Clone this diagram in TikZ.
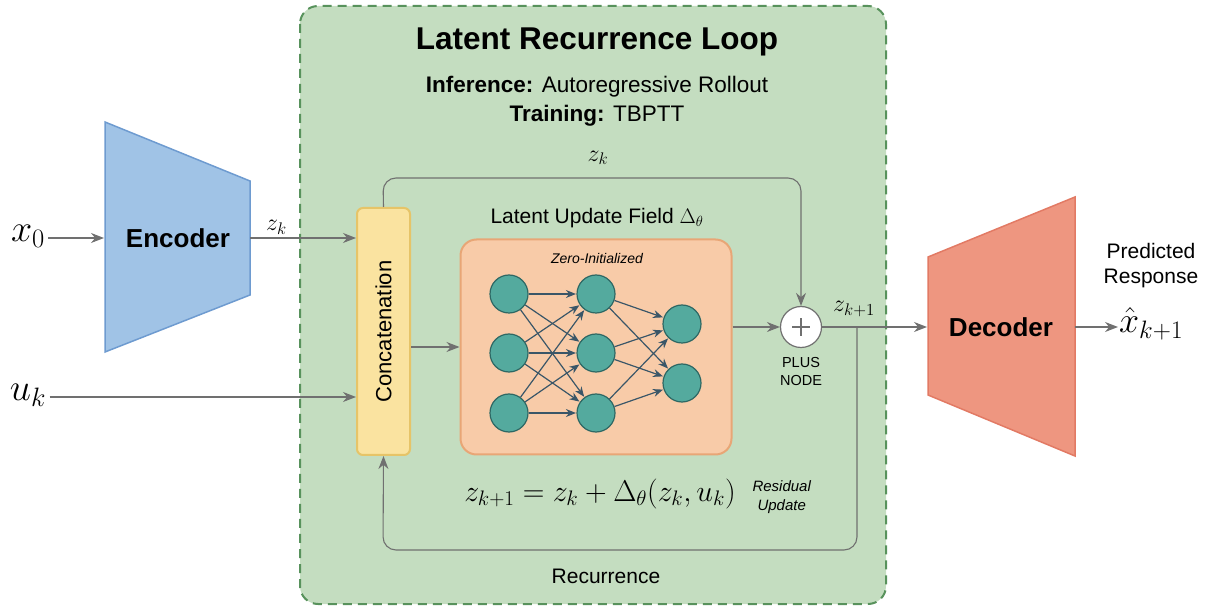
\RequirePackage{fix-cm}
\documentclass[tikz,border=0pt]{standalone}
\usepackage{fontspec}
\setmainfont{Liberation Sans}
\usetikzlibrary{arrows.meta}
\definecolor{loopfill}{RGB}{196,221,192}
\definecolor{loopline}{RGB}{88,146,92}
\definecolor{encfill}{RGB}{160,195,230}
\definecolor{encline}{RGB}{110,155,208}
\definecolor{decfill}{RGB}{238,150,128}
\definecolor{decline}{RGB}{226,122,100}
\definecolor{catfill}{RGB}{250,227,160}
\definecolor{catline}{RGB}{230,196,104}
\definecolor{fieldfill}{RGB}{248,203,168}
\definecolor{fieldline}{RGB}{232,166,118}
\definecolor{neuronfill}{RGB}{84,170,158}
\definecolor{neuronline}{RGB}{46,104,100}
\definecolor{netedge}{RGB}{58,86,104}
\definecolor{wire}{RGB}{112,112,112}
\tikzset{
  arr/.style={draw=wire, line width=1.1pt, -{Stealth[length=13pt,width=10pt]}},
  neuron/.style={circle, draw=neuronline, fill=neuronfill, line width=1.2pt, minimum size=38pt, inner sep=0pt},
  netarr/.style={draw=netedge, line width=1.2pt, -{Stealth[length=10pt,width=8pt]}, shorten >=0.5pt},
  blocktext/.style={font=\bfseries\fontsize{26}{31}\selectfont},
  plain/.style={font=\fontsize{21}{25}\selectfont},
  mathlabel/.style={font=\fontsize{24}{29}\selectfont},
}
\begin{document}
\begin{tikzpicture}[x=1pt,y=-1pt]
\useasboundingbox (0,0) rectangle (1211,609);

% recurrence frame
\draw[draw=loopline, fill=loopfill, line width=2pt, dash pattern=on 9pt off 6pt, rounded corners=18pt]
  (300,6) rectangle (886,604);
\node[font=\bfseries\fontsize{31.5}{37}\selectfont] (title) at (597,42) {Latent Recurrence Loop};
\node[font=\fontsize{22.5}{29}\selectfont, align=center] (modes) at (597,101)
  {\textbf{Inference:} Autoregressive Rollout\\\textbf{Training:} TBPTT};

% encoder
\draw[draw=encline, fill=encfill, line width=1.5pt] (105,122) -- (250,181) -- (250,295) -- (105,352) -- cycle;
\node[blocktext] (enc) at (178,238) {Encoder};
\coordinate (encin) at (104,238);
\coordinate (encout) at (250,238);

% decoder
\draw[draw=decline, fill=decfill, line width=1.5pt] (928,257) -- (1075,197) -- (1075,456) -- (928,395) -- cycle;
\node[blocktext] (dec) at (1001,327) {Decoder};
\coordinate (decin) at (927,327);
\coordinate (decout) at (1075,327);

% inputs and output
\node[font=\fontsize{38}{44}\selectfont] (x0) at (28,236) {$x_0$};
\node[font=\fontsize{38}{44}\selectfont] (uk) at (28,395) {$u_k$};
\node[font=\fontsize{36}{42}\selectfont, anchor=west, inner sep=1pt] (xhat) at (1118,324) {$\hat{x}_{k+1}$};
\node[plain, align=center, inner sep=1pt] (pred) at (1151,266) {Predicted\\Response};

% concatenation
\node[draw=catline, fill=catfill, line width=2pt, rounded corners=6pt, minimum width=53pt, minimum height=247pt] (cat) at (383.5,331.5) {};
\node[font=\fontsize{22}{26}\selectfont, rotate=90] (cattext) at (cat.center) {Concatenation};

% update field
\node[plain] (fieldtitle) at (597,218) {Latent Update Field $\Delta_\theta$};
\node[draw=fieldline, fill=fieldfill, line width=2pt, rounded corners=16pt, minimum width=271pt, minimum height=215pt] (field) at (596,347) {};
\node[font=\itshape\fontsize{14}{17}\selectfont] (zero) at (597,259) {Zero-Initialized};

% network
\foreach \i/\y in {1/294,2/353,3/413} {
  \node[neuron] (a\i) at (509,\y) {};
  \node[neuron] (b\i) at (596,\y) {};
}
\node[neuron] (c1) at (682,324) {};
\node[neuron] (c2) at (682,383) {};
\foreach \i in {1,2,3} {
  \foreach \j in {1,2,3} { \draw[netarr] (a\i) -- (b\j); }
  \foreach \j in {1,2} { \draw[netarr] (b\i) -- (c\j); }
}

% plus node
\node[circle, draw=wire, fill=white, line width=1.2pt, minimum size=41pt, inner sep=0pt] (plus) at (801,327) {};
\draw[draw=wire, line width=1.2pt] ([xshift=-9pt]plus.center) -- ([xshift=9pt]plus.center)
  ([yshift=-9pt]plus.center) -- ([yshift=9pt]plus.center);
\node[font=\fontsize{14.5}{18}\selectfont, align=center] (plusname) at (801,372) {PLUS\\NODE};

% connectors
\draw[arr] (x0.east |- encin) -- (encin);
\draw[arr] (encout) -- (encout -| cat.west) node[pos=0.25, above, mathlabel] (zk1) {$z_k$};
\draw[arr] (uk.east |- 0,397) -- (cat.west |- 0,397);
\draw[arr] (cat.east |- field.west) -- (field.west);
\draw[arr] (field.east |- plus.west) -- (plus.west);
\draw[arr, rounded corners=13pt] (cat.north) -- (383,178) -- (801,178) -- (plus.north);
\node[mathlabel] (zk2) at (598,158) {$z_k$};
\coordinate (split) at (857,327);
\draw[arr] (plus.east) -- (decin);
\node[mathlabel] (zk3) at (854,309) {$z_{k+1}$};
\draw[arr] (decout) -- (xhat.west |- decout);
\coordinate (loopR) at (857,550);
\coordinate (loopL) at (383,550);
\draw[arr, rounded corners=13pt] (split) -- (loopR) -- (loopL) -- (cat.south);
\node[plain] (rec) at (606,576) {Recurrence};

% residual update equation
\node[font=\fontsize{30}{36}\selectfont] (eq) at (600,494) {$z_{k+1} = z_k + \Delta_\theta(z_k, u_k)$};
\node[font=\itshape\fontsize{15}{19}\selectfont, align=center, anchor=west] (resid) at (749,497) {Residual\\Update};
\end{tikzpicture}
\end{document}
